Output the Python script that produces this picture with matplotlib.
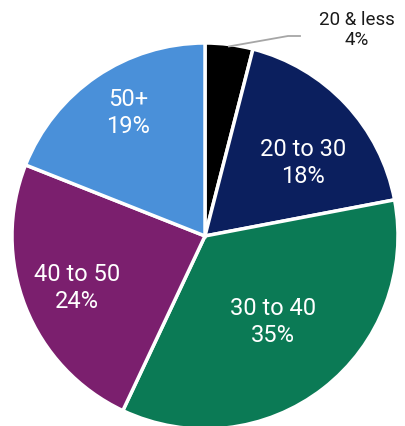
import numpy as np
import matplotlib.pyplot as plt

labels = ["20 & less", "20 to 30", "30 to 40", "40 to 50", "50+"]
shares = [4, 18, 35, 24, 19]
colors = ["#000000", "#0b1f5e", "#0b7a55", "#7b1f6e", "#4a90d9"]
# label centres in pixels (x, y from top)
label_pos = [(357, 30), (303, 163), (273, 322), (77, 288), (128, 113)]

fig = plt.figure(figsize=(4.06, 4.27), dpi=100)
ax = fig.add_axes([0, 0, 1, 1])
cx, cy, r = 205, 427 - 237, 193
H = 427

wedges, _ = ax.pie(shares, colors=colors, startangle=90, counterclock=False,
                   center=(cx, cy), radius=r,
                   wedgeprops=dict(edgecolor="white", linewidth=2.5))

for w, lab, val, (px, py) in zip(wedges, labels, shares, label_pos):
    if val < 5:
        # small slice: label outside with a grey leader line
        mid = np.deg2rad((w.theta1 + w.theta2) / 2)
        x0, y0 = cx + r * np.cos(mid) * 0.99, cy + r * np.sin(mid) * 0.99
        ax.plot([x0, 288, 300], [y0, H - 37, H - 37], color="#a6a6a6", lw=1.3)
        ax.text(px, H - py, f"{lab}\n{val}%", ha="center", va="center",
                fontsize=13.5, color="#1a1a1a", family="Roboto",
                linespacing=1.1)
        continue
    ax.text(px, H - py, f"{lab}\n{val}%", ha="center", va="center", fontsize=17,
            color="white", family="Roboto", linespacing=1.25)

ax.set_xlim(0, 406)
ax.set_ylim(0, 427)
ax.set_aspect("equal")
ax.axis("off")
fig.savefig("out.png", dpi=100)
